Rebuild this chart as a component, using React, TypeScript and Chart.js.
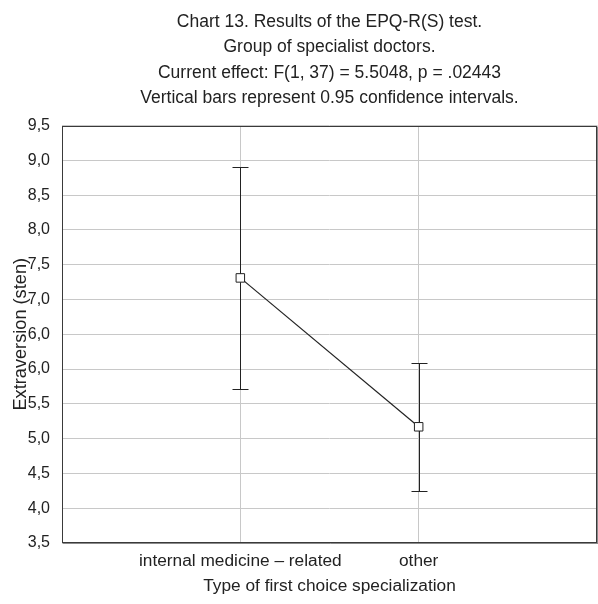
import React, { useEffect, useRef } from 'react';
import { Chart, registerables } from 'chart.js';

Chart.register(...registerables);

// ---- data ----
const categories = ['internal medicine – related', 'other'];
const means = [7.31, 5.17];
const ciLower = [5.72, 4.25];
const ciUpper = [8.9, 6.09];
// tick labels from bottom (3.5) to top (9.5), as printed in the original
const yTickLabels = ['3,5', '4,0', '4,5', '5,0', '5,5', '6,0', '6,0', '7,0', '7,5', '8,0', '8,5', '9,0', '9,5'];
const titleLines = [
  'Chart 13. Results of the EPQ-R(S) test.',
  'Group of specialist doctors.',
  'Current effect: F(1, 37) = 5.5048, p = .02443',
  'Vertical bars represent 0.95 confidence intervals.',
];
const xTitle = 'Type of first choice specialization';
const yTitle = 'Extraversion (sten)';

const FONT = "'Liberation Sans', Arial, Helvetica, sans-serif";
const INK = '#222222';
const GRID = '#c8c8c8';

const errorBarsPlugin = {
  id: 'errorBars',
  beforeDatasetsDraw(chart: any) {
    const { ctx, scales } = chart;
    const x = scales.x;
    const y = scales.y;
    ctx.save();
    ctx.strokeStyle = INK;
    ctx.lineWidth = 1;
    for (let i = 0; i < means.length; i++) {
      const px = Math.round(x.getPixelForValue(i + 1)) + 0.5;
      const yu = Math.round(y.getPixelForValue(ciUpper[i])) + 0.5;
      const yl = Math.round(y.getPixelForValue(ciLower[i])) + 0.5;
      const cap = 8;
      ctx.beginPath();
      ctx.moveTo(px, yu);
      ctx.lineTo(px, yl);
      ctx.moveTo(px - cap, yu);
      ctx.lineTo(px + cap, yu);
      ctx.moveTo(px - cap, yl);
      ctx.lineTo(px + cap, yl);
      ctx.stroke();
    }
    ctx.restore();
  },
};

const framePlugin = {
  id: 'frame',
  afterDatasetsDraw(chart: any) {
    const { ctx, chartArea } = chart;
    const l = Math.round(chartArea.left);
    const t = Math.round(chartArea.top);
    const r = Math.round(chartArea.right);
    const b = Math.round(chartArea.bottom);
    ctx.save();
    ctx.strokeStyle = '#3a3a3a';
    ctx.lineWidth = 1;
    ctx.strokeRect(l + 0.5, t + 0.5, r - l - 1, b - t - 1);
    ctx.strokeStyle = '#8a8a8a';
    ctx.beginPath();
    ctx.moveTo(r + 0.5, t + 1);
    ctx.lineTo(r + 0.5, b + 1);
    ctx.moveTo(l + 1, b + 0.5);
    ctx.lineTo(r + 1, b + 0.5);
    ctx.stroke();
    ctx.restore();
  },
};

export default function App() {
  const canvasRef = useRef<HTMLCanvasElement | null>(null);

  useEffect(() => {
    if (!canvasRef.current) return;
    Chart.defaults.color = INK;
    const chart = new Chart(canvasRef.current, {
      type: 'line',
      data: {
        datasets: [
          {
            data: means.map((m, i) => ({ x: i + 1, y: m })),
            borderColor: INK,
            borderWidth: 1.2,
            pointStyle: 'rect',
            pointRadius: 6,
            pointBackgroundColor: '#ffffff',
            pointBorderColor: INK,
            pointBorderWidth: 1,
            tension: 0,
          },
        ],
      },
      options: {
        responsive: false,
        animation: false,
        layout: { autoPadding: false, padding: { left: 0, right: 1, top: 0, bottom: 0 } },
        plugins: {
          legend: { display: false },
          tooltip: { enabled: false },
          title: {
            display: true,
            text: titleLines,
            fullSize: false,
            color: INK,
            font: { family: FONT, size: 17.5, weight: 'normal', lineHeight: 1.446 },
            padding: { top: 9.5, bottom: 14.8 },
          },
        },
        scales: {
          x: {
            type: 'linear',
            min: 0,
            max: 3,
            afterFit(scale: any) {
              scale.height = 61;
              scale.paddingLeft = 0;
              scale.paddingRight = 0;
            },
            ticks: {
              stepSize: 1,
              autoSkip: false,
              maxRotation: 0,
              padding: 8,
              color: INK,
              font: { family: FONT, size: 17.3, lineHeight: 1.2 },
              callback: (v: any) => categories[Number(v) - 1] ?? '',
            },
            grid: { color: GRID, drawTicks: false, lineWidth: 1 },
            border: { display: false },
            title: {
              display: true,
              text: xTitle,
              color: INK,
              font: { family: FONT, size: 17.3, lineHeight: 1.2 },
              padding: { top: 0, bottom: 7 },
            },
          },
          y: {
            type: 'linear',
            min: 3.5,
            max: 9.5,
            afterFit(scale: any) {
              scale.width = 62;
            },
            ticks: {
              stepSize: 0.5,
              padding: 12,
              color: INK,
              font: { family: FONT, size: 16, lineHeight: 1.2 },
              callback: (_v: any, index: number) => yTickLabels[index] ?? '',
            },
            grid: { color: GRID, drawTicks: false, lineWidth: 1 },
            border: { display: false },
            title: {
              display: true,
              text: yTitle,
              color: INK,
              font: { family: FONT, size: 18.2, lineHeight: 1.2 },
              padding: { top: 10, bottom: 0 },
            },
          },
        },
      },
      plugins: [errorBarsPlugin, framePlugin],
    } as any);
    return () => chart.destroy();
  }, []);

  return (
    <div style={{ position: 'absolute', left: 0, top: 0, width: 598, height: 604, background: '#fff' }}>
      <canvas ref={canvasRef} width={598} height={604} style={{ display: 'block', width: 598, height: 604 }} />
    </div>
  );
}
